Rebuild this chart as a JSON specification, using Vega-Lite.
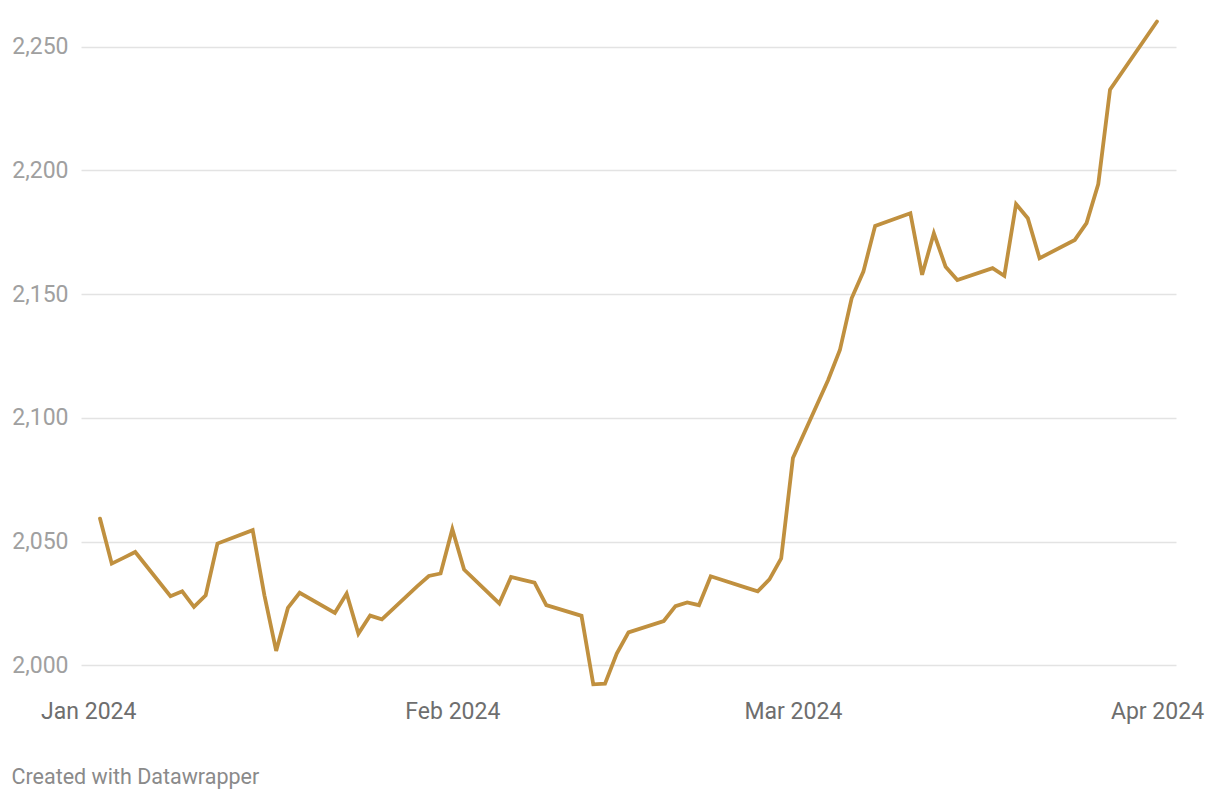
{
  "$schema": "https://vega.github.io/schema/vega-lite/v6.json",
  "width": 1095,
  "height": 678,
  "autosize": {"type": "none"},
  "padding": {"left": 81, "top": 17, "right": 44, "bottom": 105},
  "background": "#ffffff",
  "config": {
    "view": {"stroke": null},
    "font": "Roboto"
  },
  "data": {
    "values": [
      {"date": "2024-01-02", "price": 2059.3},
      {"date": "2024-01-03", "price": 2041.1},
      {"date": "2024-01-04", "price": 2043.4},
      {"date": "2024-01-05", "price": 2045.8},
      {"date": "2024-01-08", "price": 2027.9},
      {"date": "2024-01-09", "price": 2029.9},
      {"date": "2024-01-10", "price": 2023.6},
      {"date": "2024-01-11", "price": 2028.3},
      {"date": "2024-01-12", "price": 2049.2},
      {"date": "2024-01-15", "price": 2054.6},
      {"date": "2024-01-16", "price": 2028.3},
      {"date": "2024-01-17", "price": 2005.8},
      {"date": "2024-01-18", "price": 2023.2},
      {"date": "2024-01-19", "price": 2029.3},
      {"date": "2024-01-22", "price": 2021.2},
      {"date": "2024-01-23", "price": 2029.0},
      {"date": "2024-01-24", "price": 2012.8},
      {"date": "2024-01-25", "price": 2020.1},
      {"date": "2024-01-26", "price": 2018.6},
      {"date": "2024-01-29", "price": 2031.9},
      {"date": "2024-01-30", "price": 2036.1},
      {"date": "2024-01-31", "price": 2037.1},
      {"date": "2024-02-01", "price": 2055.0},
      {"date": "2024-02-02", "price": 2038.7},
      {"date": "2024-02-05", "price": 2025.0},
      {"date": "2024-02-06", "price": 2035.7},
      {"date": "2024-02-07", "price": 2034.5},
      {"date": "2024-02-08", "price": 2033.4},
      {"date": "2024-02-09", "price": 2024.3},
      {"date": "2024-02-12", "price": 2020.0},
      {"date": "2024-02-13", "price": 1992.3},
      {"date": "2024-02-14", "price": 1992.6},
      {"date": "2024-02-15", "price": 2004.7},
      {"date": "2024-02-16", "price": 2013.3},
      {"date": "2024-02-19", "price": 2017.9},
      {"date": "2024-02-20", "price": 2023.9},
      {"date": "2024-02-21", "price": 2025.4},
      {"date": "2024-02-22", "price": 2024.3},
      {"date": "2024-02-23", "price": 2036.0},
      {"date": "2024-02-26", "price": 2031.4},
      {"date": "2024-02-27", "price": 2029.9},
      {"date": "2024-02-28", "price": 2034.7},
      {"date": "2024-02-29", "price": 2043.2},
      {"date": "2024-03-01", "price": 2083.8},
      {"date": "2024-03-04", "price": 2115.3},
      {"date": "2024-03-05", "price": 2127.4},
      {"date": "2024-03-06", "price": 2148.3},
      {"date": "2024-03-07", "price": 2159.1},
      {"date": "2024-03-08", "price": 2177.6},
      {"date": "2024-03-11", "price": 2182.7},
      {"date": "2024-03-12", "price": 2157.8},
      {"date": "2024-03-13", "price": 2174.6},
      {"date": "2024-03-14", "price": 2161.1},
      {"date": "2024-03-15", "price": 2155.7},
      {"date": "2024-03-18", "price": 2160.5},
      {"date": "2024-03-19", "price": 2157.4},
      {"date": "2024-03-20", "price": 2186.4},
      {"date": "2024-03-21", "price": 2180.7},
      {"date": "2024-03-22", "price": 2164.5},
      {"date": "2024-03-25", "price": 2171.9},
      {"date": "2024-03-26", "price": 2178.7},
      {"date": "2024-03-27", "price": 2194.5},
      {"date": "2024-03-28", "price": 2232.6},
      {"date": "2024-04-01", "price": 2260.2}
    ]
  },
  "mark": {"type": "line", "color": "#c0903f", "strokeWidth": 3.8, "strokeJoin": "miter", "strokeCap": "round", "clip": true},
  "encoding": {
    "x": {
      "field": "date",
      "type": "temporal",
      "scale": {
        "type": "utc",
        "domain": [
          {"year": 2023, "month": 12, "date": 31, "hours": 9, "minutes": 10, "utc": true},
          {"year": 2024, "month": 4, "date": 2, "hours": 14, "minutes": 50, "utc": true}
        ],
        "nice": false
      },
      "axis": {
        "values": [
          {"year": 2024, "month": 1, "date": 1, "utc": true},
          {"year": 2024, "month": 2, "date": 1, "utc": true},
          {"year": 2024, "month": 3, "date": 1, "utc": true},
          {"year": 2024, "month": 4, "date": 1, "utc": true}
        ],
        "labelExpr": "utcFormat(datum.value, '%b %Y')",
        "grid": false,
        "domain": false,
        "ticks": false,
        "tickSize": 0,
        "labelPadding": 23,
        "labelBaseline": "alphabetic",
        "labelFontSize": 23,
        "labelColor": "#6e6e6e",
        "labelFont": "Roboto",
        "labelOverlap": false,
        "labelFlush": false,
        "title": "Created with Datawrapper",
        "titleX": -70,
        "titleY": 88.5,
        "titleAnchor": "start",
        "titleAlign": "left",
        "titleBaseline": "alphabetic",
        "titleFont": "Roboto",
        "titleFontSize": 21.5,
        "titleFontWeight": "normal",
        "titleColor": "#8a8a8a"
      }
    },
    "y": {
      "field": "price",
      "type": "quantitative",
      "scale": {"domain": [1988, 2262], "nice": false, "zero": false},
      "axis": {
        "values": [2000, 2050, 2100, 2150, 2200, 2250],
        "format": ",d",
        "grid": true,
        "gridColor": "#e3e3e3",
        "gridWidth": 1.3,
        "domain": false,
        "ticks": false,
        "tickSize": 0,
        "labelPadding": 13,
        "labelFontSize": 23,
        "labelColor": "#a0a0a0",
        "labelFont": "Roboto",
        "labelBaseline": "middle",
        "title": null
      }
    }
  }
}
